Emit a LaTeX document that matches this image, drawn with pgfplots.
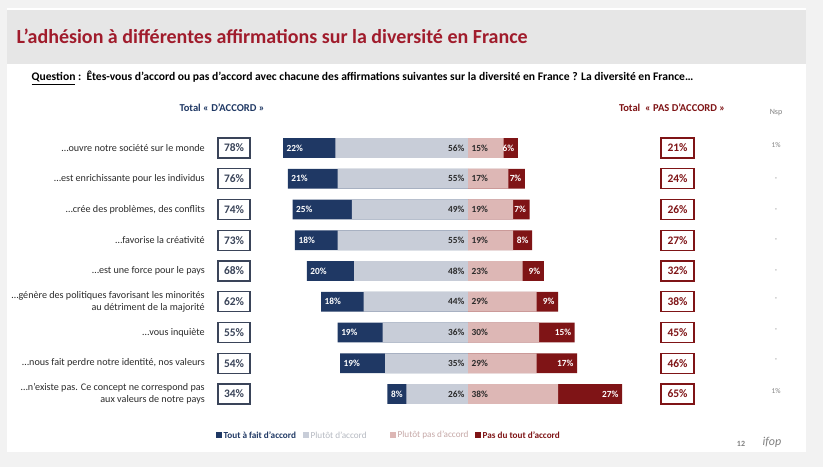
\documentclass[border=0pt]{standalone}
\usepackage{pgfplots}
\pgfplotsset{compat=1.18}
\usepackage{pgfplotstable}
\usepackage{fontspec}
\setmainfont{Carlito}
\definecolor{navy}{HTML}{1F3864}
\definecolor{lightb}{HTML}{C8CDD8}
\definecolor{pinkr}{HTML}{DDB7B5}
\definecolor{darkr}{HTML}{7F1416}
\definecolor{titler}{HTML}{A01C2C}
\definecolor{pagegray}{HTML}{F2F2F2}
\definecolor{bandgray}{HTML}{E6E6E6}
\definecolor{boxnavy}{HTML}{3A4459}
\definecolor{txt}{HTML}{2B2B2B}

\pgfplotstableread{
row a b c d ta td
1 22 56 15 6 78 21
2 21 55 17 7 76 24
3 25 49 19 7 74 26
4 18 55 19 8 73 27
5 20 48 23 9 68 32
6 18 44 29 9 62 38
7 19 36 30 15 55 45
8 19 35 29 17 54 46
9 8 26 38 27 34 65
}\data

\pgfplotsset{
  mybar/.style={xbar, bar width=0.65, bar shift=0pt, draw=none, fill=#1},
  lab/.style={draw=none, mark=none, point meta=explicit,
    nodes near coords={\pgfmathprintnumber{\pgfplotspointmeta}\%},
    every node near coord/.style={font=\bfseries\fontsize{7}{8}\selectfont, inner sep=2.5pt, #1}},
}

\begin{document}
\begin{tikzpicture}
\begin{scope}[x=0.75pt,y=-0.75pt,shift={(0,350.25pt)}]
\fill[pagegray] (0,0) rectangle (823,467);
\fill[white] (7,8) rectangle (806,452);
\fill[bandgray] (7,10) rectangle (806,64);
\end{scope}
\begin{axis}[at={(0,0)}, anchor=south west, scale only axis,
  width=617.25pt, height=350.25pt,
  xmin=-197.47, xmax=149.79, ymin=-3.813, ymax=11.374, y dir=reverse,
  hide axis, clip=false, /pgf/number format/assume math mode=true]
% left side
\addplot[mybar=navy] table[x expr={-\thisrow{a}-\thisrow{b}}, y=row] {\data};
\addplot[mybar=lightb] table[x expr={-\thisrow{b}}, y=row] {\data};
% right side
\addplot[mybar=darkr] table[x expr={\thisrow{c}+\thisrow{d}}, y=row] {\data};
\addplot[mybar=pinkr] table[x=c, y=row] {\data};
% labels
\addplot[lab={anchor=west, text=white}] table[x expr={-\thisrow{a}-\thisrow{b}}, y=row, meta=a] {\data};
\addplot[lab={anchor=east, text=txt}] table[x expr={0}, y=row, meta=b] {\data};
\addplot[lab={anchor=west, text=txt}] table[x expr={0}, y=row, meta=c] {\data};
\addplot[lab={anchor=east, text=white}] table[x expr={\thisrow{c}+\thisrow{d}}, y=row, meta=d] {\data};
% totals
\addplot[lab={anchor=center, draw=boxnavy, line width=1.1pt, text=boxnavy, minimum width=24pt, minimum height=15pt, font=\bfseries\fontsize{8.6}{10}\selectfont}] table[x expr={-98.73}, y=row, meta=ta] {\data};
\addplot[lab={anchor=center, draw=darkr, line width=1.1pt, text=darkr, minimum width=24.5pt, minimum height=15pt, font=\bfseries\fontsize{8.6}{10}\selectfont}] table[x expr={88.4}, y=row, meta=td] {\data};
\end{axis}
\begin{scope}[x=0.75pt,y=-0.75pt,shift={(0,350.25pt)}]
\node[anchor=west, text=titler, font=\bfseries\fontsize{15}{17}\selectfont] at (12,36) {L'adhésion à différentes affirmations sur la diversité en France};
\node[anchor=west, text=black, font=\bfseries\fontsize{8.7}{10}\selectfont] at (27,78) {\underline{Question} :\ \ Êtes-vous d’accord ou pas d’accord avec chacune des affirmations suivantes sur la diversité en France ? La diversité en France…};
\node[text=navy, font=\bfseries\fontsize{7.9}{9}\selectfont] at (222,108) {Total « D’ACCORD »};
\node[text=darkr, font=\bfseries\fontsize{7.9}{9}\selectfont] at (672,108) {Total\ \ « PAS D’ACCORD »};
\node[text=gray, font=\fontsize{6}{7}\selectfont] at (776,113) {Nsp};
\begin{scope}[every node/.style={anchor=east, align=right, text=txt, font=\fontsize{7.6}{9.2}\selectfont, inner sep=0pt}]
\node at (205,148) {…ouvre notre société sur le monde};
\node at (205,179) {…est enrichissante pour les individus};
\node at (205,210) {…crée des problèmes, des conflits};
\node at (205,240) {…favorise la créativité};
\node at (205,271) {…est une force pour le pays};
\node at (205,302) {…génère des politiques favorisant les minorités\\au détriment de la majorité};
\node at (205,333) {…vous inquiète};
\node at (205,363) {…nous fait perdre notre identité, nos valeurs};
\node at (205,394) {…n’existe pas. Ce concept ne correspond pas\\aux valeurs de notre pays};
\end{scope}
\begin{scope}[every node/.style={text=gray, font=\fontsize{5.5}{6}\selectfont}]
\node at (776,145) {1\%};
\node at (776,179) {-};
\node at (776,210) {-};
\node at (776,240) {-};
\node at (776,271) {-};
\node at (776,299) {-};
\node at (776,330) {-};
\node at (776,360) {-};
\node at (776,391) {1\%};
\end{scope}
% legend
\fill[navy] (216,432) rectangle (221.5,437.5);
\node[anchor=west, inner sep=1pt, text=navy, font=\bfseries\fontsize{6.9}{8}\selectfont] at (222,435) {Tout à fait d’accord};
\fill[lightb] (303,432) rectangle (308.5,437.5);
\node[anchor=west, inner sep=1pt, text=lightb!75!gray, font=\fontsize{6.9}{8}\selectfont] at (309,435) {Plutôt d’accord};
\fill[pinkr] (390,432) rectangle (395.5,437.5);
\node[anchor=west, inner sep=1pt, text=pinkr!75!gray, font=\fontsize{6.9}{8}\selectfont] at (396,435) {Plutôt pas d’accord};
\fill[darkr] (475,432) rectangle (480.5,437.5);
\node[anchor=west, inner sep=1pt, text=darkr, font=\bfseries\fontsize{6.9}{8}\selectfont] at (481,435) {Pas du tout d’accord};
\node[text=gray, font=\bfseries\fontsize{6}{7}\selectfont] at (741,444) {12};
\node[text=gray, font=\itshape\fontsize{9}{10}\selectfont] at (772,442) {ifop};
\end{scope}
\end{tikzpicture}
\end{document}
